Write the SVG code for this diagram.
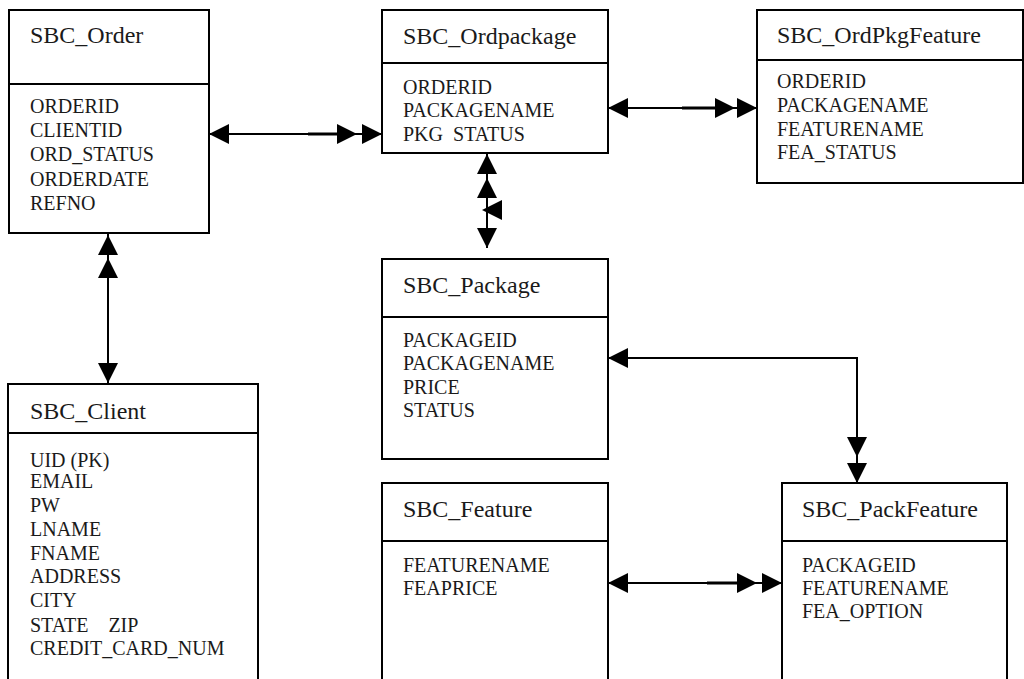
<svg xmlns="http://www.w3.org/2000/svg" xmlns:xlink="http://www.w3.org/1999/xlink" width="1024" height="679" viewBox="0 0 1024 679">
<style>
.box{fill:#fff;stroke:#000;stroke-width:2}
.div{stroke:#000;stroke-width:2}
.t{font-family:"Liberation Serif","Times New Roman",serif;font-size:24px;fill:#1a1a1a}
.a{font-family:"Liberation Serif","Times New Roman",serif;font-size:20px;fill:#1a1a1a}
.c{fill:none;stroke:#000;stroke-width:2}
.ct{fill:none;stroke:#000;stroke-width:3}
.ah{fill:#000}
</style>
<defs>
<path id="ah" class="ah" d="M0,0 L-20,-10 L-20,10 Z"/>
</defs>
<rect width="1024" height="679" fill="#fff"/>

<g id="order">
<rect class="box" x="9" y="10" width="200" height="223"/>
<line class="div" x1="9" y1="84" x2="209" y2="84"/>
<text class="t" x="30" y="43">SBC_Order</text>
<text class="a" x="30" y="113">ORDERID</text>
<text class="a" x="30" y="137">CLIENTID</text>
<text class="a" x="30" y="161">ORD_STATUS</text>
<text class="a" x="30" y="186">ORDERDATE</text>
<text class="a" x="30" y="210">REFNO</text>
</g>

<g id="ordpackage">
<rect class="box" x="382" y="10" width="226" height="143"/>
<line class="div" x1="382" y1="63" x2="608" y2="63"/>
<text class="t" x="403" y="44">SBC_Ordpackage</text>
<text class="a" x="403" y="94">ORDERID</text>
<text class="a" x="403" y="117">PACKAGENAME</text>
<text class="a" x="403" y="141" xml:space="preserve">PKG  STATUS</text>
</g>

<g id="ordpkgfeature">
<rect class="box" x="757" y="10" width="266" height="173"/>
<line class="div" x1="757" y1="60" x2="1023" y2="60"/>
<text class="t" x="777" y="43">SBC_OrdPkgFeature</text>
<text class="a" x="777" y="88">ORDERID</text>
<text class="a" x="777" y="112">PACKAGENAME</text>
<text class="a" x="777" y="136">FEATURENAME</text>
<text class="a" x="777" y="159">FEA_STATUS</text>
</g>

<g id="package">
<rect class="box" x="382" y="259" width="226" height="200"/>
<line class="div" x1="382" y1="317" x2="608" y2="317"/>
<text class="t" x="403" y="293">SBC_Package</text>
<text class="a" x="403" y="347">PACKAGEID</text>
<text class="a" x="403" y="370">PACKAGENAME</text>
<text class="a" x="403" y="394">PRICE</text>
<text class="a" x="403" y="417">STATUS</text>
</g>

<g id="client">
<rect class="box" x="8" y="384" width="250" height="310"/>
<line class="div" x1="8" y1="433" x2="258" y2="433"/>
<text class="t" x="30" y="419">SBC_Client</text>
<text class="a" x="30" y="467">UID (PK)</text>
<text class="a" x="30" y="488">EMAIL</text>
<text class="a" x="30" y="512">PW</text>
<text class="a" x="30" y="536">LNAME</text>
<text class="a" x="30" y="560">FNAME</text>
<text class="a" x="30" y="583">ADDRESS</text>
<text class="a" x="30" y="607">CITY</text>
<text class="a" x="30" y="632" xml:space="preserve">STATE    ZIP</text>
<text class="a" x="30" y="655">CREDIT_CARD_NUM</text>
</g>

<g id="feature">
<rect class="box" x="382" y="483" width="226" height="210"/>
<line class="div" x1="382" y1="541" x2="608" y2="541"/>
<text class="t" x="403" y="517">SBC_Feature</text>
<text class="a" x="403" y="572">FEATURENAME</text>
<text class="a" x="403" y="595">FEAPRICE</text>
</g>

<g id="packfeature">
<rect class="box" x="782" y="483" width="225" height="210"/>
<line class="div" x1="782" y1="541" x2="1007" y2="541"/>
<text class="t" x="802" y="517">SBC_PackFeature</text>
<text class="a" x="802" y="572">PACKAGEID</text>
<text class="a" x="802" y="595">FEATURENAME</text>
<text class="a" x="802" y="618">FEA_OPTION</text>
</g>

<g id="connectors">
<!-- Order - Ordpackage -->
<line class="c" x1="209" y1="134" x2="382" y2="134"/>
<line class="ct" x1="308" y1="134" x2="340" y2="134"/>
<use xlink:href="#ah" transform="translate(209,134) rotate(180)"/>
<use xlink:href="#ah" transform="translate(357,134)"/>
<use xlink:href="#ah" transform="translate(382,134)"/>
<!-- Ordpackage - OrdPkgFeature -->
<line class="c" x1="608" y1="108" x2="757" y2="108"/>
<line class="ct" x1="682" y1="108" x2="715" y2="108"/>
<use xlink:href="#ah" transform="translate(608,108) rotate(180)"/>
<use xlink:href="#ah" transform="translate(735,108)"/>
<use xlink:href="#ah" transform="translate(757,108)"/>
<!-- Ordpackage - Package -->
<line class="c" x1="487" y1="153" x2="487" y2="248"/>
<use xlink:href="#ah" transform="translate(487,154) rotate(-90)"/>
<use xlink:href="#ah" transform="translate(487,178) rotate(-90)"/>
<use xlink:href="#ah" transform="translate(482,210) rotate(180)"/>
<use xlink:href="#ah" transform="translate(487,248) rotate(90)"/>
<!-- Order - Client -->
<line class="c" x1="108" y1="233" x2="108" y2="384"/>
<use xlink:href="#ah" transform="translate(108,235) rotate(-90)"/>
<use xlink:href="#ah" transform="translate(108,258) rotate(-90)"/>
<use xlink:href="#ah" transform="translate(108,383) rotate(90)"/>
<!-- Package - PackFeature -->
<polyline class="c" points="608,358 857,358 857,483"/>
<use xlink:href="#ah" transform="translate(608,358) rotate(180)"/>
<use xlink:href="#ah" transform="translate(857,457) rotate(90)"/>
<use xlink:href="#ah" transform="translate(857,483) rotate(90)"/>
<!-- Feature - PackFeature -->
<line class="c" x1="608" y1="583" x2="782" y2="583"/>
<line class="ct" x1="707" y1="583" x2="740" y2="583"/>
<use xlink:href="#ah" transform="translate(608,583) rotate(180)"/>
<use xlink:href="#ah" transform="translate(757,583)"/>
<use xlink:href="#ah" transform="translate(782,583)"/>
</g>
</svg>
